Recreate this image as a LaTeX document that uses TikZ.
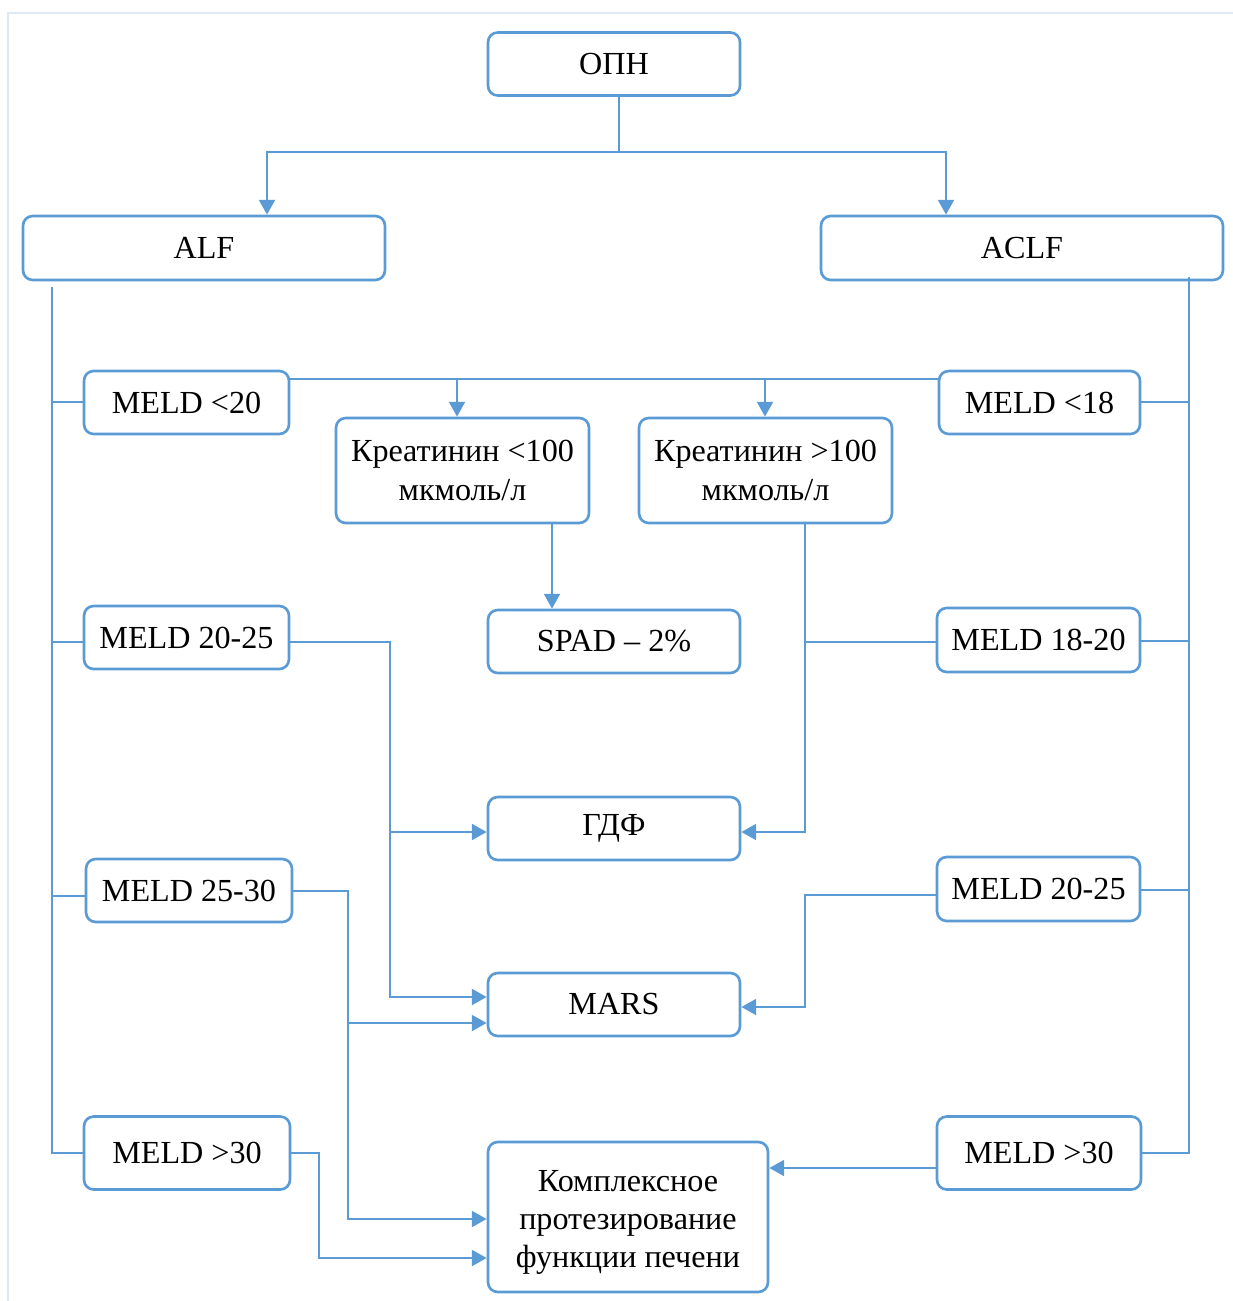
\documentclass[tikz,border=0pt]{standalone}
\usepackage{fontspec}
\setmainfont{Liberation Serif}
\usetikzlibrary{arrows.meta}
\definecolor{lb}{HTML}{5B9BD5}
\definecolor{framec}{HTML}{DDEAF6}
\begin{document}
\begin{tikzpicture}[x=0.02cm,y=-0.02cm,
  box/.style={draw=lb, line width=1.5pt, rounded corners=5.5pt, fill=white, inner sep=0pt, align=center,
    font=\fontsize{18.3pt}{21.8pt}\selectfont},
  conn/.style={draw=lb, line width=1.6pt},
  arr/.style={conn, -{Triangle[length=8.5pt,width=9pt]}}]
\useasboundingbox (0,0) rectangle (1233,1301);
\draw[framec, line width=0.8pt] (8,1301) -- (8,13) -- (1233,13);

\node[box, minimum width=5.04cm, minimum height=1.26cm] (opn) at (614,64) {ОПН};
\node[box, minimum width=7.24cm, minimum height=1.28cm] (alf) at (204,248) {ALF};
\node[box, minimum width=8.04cm, minimum height=1.28cm] (aclf) at (1022,248) {ACLF};
\node[box, minimum width=4.1cm, minimum height=1.26cm] (m20) at (186.5,402.5) {MELD <20};
\node[box, minimum width=4.02cm, minimum height=1.26cm] (m18) at (1039.5,402.5) {MELD <18};
\node[box, minimum width=5.06cm, minimum height=2.1cm] (k1) at (462.5,470.5) {Креатинин <100\\мкмоль/л};
\node[box, minimum width=5.06cm, minimum height=2.1cm] (k2) at (765.5,470.5) {Креатинин >100\\мкмоль/л};
\node[box, minimum width=5.04cm, minimum height=1.26cm] (spad) at (614,641.5) {SPAD – 2\%};
\node[box, minimum width=4.1cm, minimum height=1.26cm] (ml2025) at (186.5,637.5) {MELD 20-25};
\node[box, minimum width=4.06cm, minimum height=1.28cm] (m1820) at (1038.5,640) {MELD 18-20};
\node[box, minimum width=5.04cm, minimum height=1.26cm] (gdf) at (614,828.5) {ГДФ};
\node[box, minimum width=4.12cm, minimum height=1.26cm] (m2530) at (189,890.5) {MELD 25-30};
\node[box, minimum width=4.06cm, minimum height=1.28cm] (mr2025) at (1038.5,889) {MELD 20-25};
\node[box, minimum width=5.04cm, minimum height=1.26cm] (mars) at (614,1004.5) {MARS};
\node[box, minimum width=4.12cm, minimum height=1.46cm] (ml30) at (187,1153) {MELD >30};
\node[box, minimum width=4.08cm, minimum height=1.46cm] (mr30) at (1039,1153) {MELD >30};
\node[box, minimum width=5.6cm, minimum height=3.0cm] (kp) at (628,1217) {\raisebox{-3pt}[\height][\depth]{\parbox{5.6cm}{\centering Комплексное\\протезирование\\функции печени}}};

% top split
\coordinate (split) at (619,152);
\draw[conn] (opn.south -| split) -- (split);
\draw[arr] (split) -| (alf.north -| 267,0);
\draw[arr] (split) -| (aclf.north -| 946,0);

% ALF trunk
\draw[conn] (52,287) |- (ml30.west);
\draw[conn] (52,402) -- (m20.west |- 0,402);
\draw[conn] (52,642) -- (ml2025.west |- 0,642);
\draw[conn] (52,896) -- (m2530.west |- 0,896);

% ACLF trunk
\draw[conn] (1189,277) |- (mr30.east);
\draw[conn] (1189,402) -- (m18.east |- 0,402);
\draw[conn] (1189,641) -- (m1820.east |- 0,641);
\draw[conn] (1189,890) -- (mr2025.east |- 0,890);

% creatinine
\draw[conn] (m20.east |- 0,379) -- (m18.west |- 0,379);
\draw[arr] (457,379) -- (k1.north -| 457,0);
\draw[arr] (765,379) -- (k2.north -| 765,0);
\draw[arr] (k1.south -| 552,0) -- (spad.north -| 552,0);
\draw[arr] (k2.south -| 805,0) |- (gdf.east |- 0,832);
\draw[conn] (m1820.west |- 0,642) -- (805,642);

% left to treatments
\draw[arr] (ml2025.east |- 0,642) -| (390,997) -- (mars.west |- 0,997);
\draw[arr] (390,832) -- (gdf.west |- 0,832);
\draw[arr] (m2530.east |- 0,891) -| (348,1219) -- (kp.west |- 0,1219);
\draw[arr] (348,1023) -- (mars.west |- 0,1023);
\draw[arr] (ml30.east) -| (319,1258) -- (kp.west |- 0,1258);

% right to treatments
\draw[arr] (mr2025.west |- 0,895) -| (805,1007) -- (mars.east |- 0,1007);
\draw[arr] (mr30.west |- 0,1168) -- (kp.east |- 0,1168);
\end{tikzpicture}
\end{document}
